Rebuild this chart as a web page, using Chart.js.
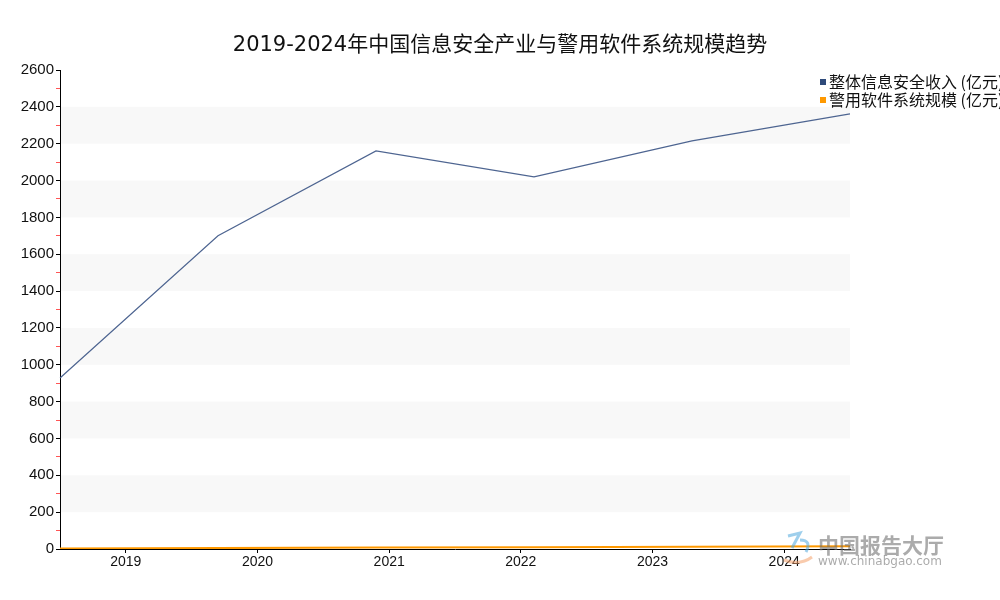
<!DOCTYPE html>
<html>
<head>
<meta charset="utf-8">
<script src="https://cdn.jsdelivr.net/npm/chart.js@4.4.1/dist/chart.umd.min.js"></script>
<style>
    html, body { margin: 0; padding: 0; background: #fff; }
    #wrap { width: 1000px; height: 600px; position: relative; }
</style>
</head>
<body>
<div id="wrap"><canvas id="trend"></canvas></div>
<script>
const years = ['2019', '2020', '2021', '2022', '2023', '2024'];
const securityRevenue = [928, 1700, 2161, 2020, 2215, 2362];
const policeSoftware = [3, 5, 8, 10, 12, 15];
const seriesNames = ['整体信息安全收入(亿元)', '警用软件系统规模(亿元)'];
const seriesColors = ['#4e6591', '#ff9900'];
const legendColors = ['#2e4a7a', '#ff9900'];
const chartTitle = '2019-2024年中国信息安全产业与警用软件系统规模趋势';

const cjkFont = "'DejaVu Sans', 'Noto Sans CJK SC', sans-serif";
const numFont = "'Liberation Sans', 'DejaVu Sans', sans-serif";

// grey bands every other 200 step, taken from the y scale
const bandPlugin = {
    id: 'bands',
    beforeDatasetsDraw(chart) {
        const { ctx, chartArea } = chart;
        const y = chart.scales.y;
        ctx.save();
        ctx.fillStyle = '#f8f8f8';
        y.ticks.forEach(t => {
            if (t.value % 400 === 200 && t.value + 200 <= y.max) {
                const top = y.getPixelForValue(t.value + 200);
                const bottom = y.getPixelForValue(t.value);
                ctx.fillRect(chartArea.left + 1, top, chartArea.right - chartArea.left - 1, bottom - top);
            }
        });
        ctx.restore();
    }
};

// title centred on the whole canvas, legend right of the plot running off the edge
const decorations = {
    id: 'decorations',
    afterDraw(chart) {
        const { ctx, chartArea, width } = chart;
        ctx.save();
        ctx.fillStyle = '#111';
        ctx.textAlign = 'center';
        ctx.textBaseline = 'middle';
        ctx.font = "21px " + cjkFont;
        ctx.fillText(chartTitle, width / 2, 46);

        ctx.textAlign = 'left';
        ctx.font = "16px 'Noto Sans CJK SC', sans-serif";
        chart.data.datasets.forEach((ds, i) => {
            const yy = 82 + i * 18;
            ctx.fillStyle = legendColors[i];
            ctx.fillRect(chartArea.right - 30, yy - 3, 6, 6);
            ctx.fillStyle = '#111';
            ctx.fillText(ds.label.replace('(', ' ('), chartArea.right - 21, yy);
        });

        // watermark
        ctx.globalAlpha = 0.55;
        ctx.strokeStyle = '#4fa8dc';
        ctx.lineWidth = 3;
        ctx.beginPath();
        ctx.moveTo(788, 536);
        ctx.lineTo(800, 533);
        ctx.lineTo(792, 548);
        ctx.moveTo(800, 540);
        ctx.quadraticCurveTo(812, 540, 806, 552);
        ctx.stroke();
        ctx.strokeStyle = '#f4a06a';
        ctx.beginPath();
        ctx.moveTo(784, 560);
        ctx.quadraticCurveTo(800, 566, 812, 557);
        ctx.stroke();
        ctx.fillStyle = '#666';
        ctx.font = "bold 21px 'Noto Sans CJK SC', sans-serif";
        ctx.fillText('中国报告大厅', 818, 545);
        ctx.font = "12px 'DejaVu Sans', sans-serif";
        ctx.fillText('www.chinabgao.com', 818, 562);
        ctx.restore();
    }
};

new Chart(document.getElementById('trend'), {
    type: 'line',
    data: {
        labels: years,
        datasets: [
            {
                label: seriesNames[0],
                data: securityRevenue,
                borderColor: seriesColors[0],
                backgroundColor: seriesColors[0],
                borderWidth: 1.2,
                pointRadius: 0,
                tension: 0
            },
            {
                label: seriesNames[1],
                data: policeSoftware,
                borderColor: seriesColors[1],
                backgroundColor: seriesColors[1],
                borderWidth: 2,
                pointRadius: 0,
                tension: 0
            }
        ]
    },
    options: {
        responsive: true,
        maintainAspectRatio: false,
        animation: false,
        layout: { padding: { left: 0, right: 150, top: 70, bottom: 0 } },
        plugins: {
            legend: { display: false },
            tooltip: { enabled: false },
            title: { display: false }
        },
        scales: {
            x: {
                type: 'category',
                display: false,
                offset: false
            },
            x2: {
                type: 'category',
                labels: years,
                position: 'bottom',
                offset: true,
                grid: {
                    offset: false,
                    drawOnChartArea: false,
                    tickLength: 4,
                    tickColor: '#000'
                },
                border: { color: '#000', width: 1 },
                ticks: {
                    color: '#111',
                    padding: 1,
                    font: { family: numFont, size: 14 }
                },
                afterFit(scale) { scale.height = 51; }
            },
            y: {
                min: 0,
                max: 2600,
                grid: {
                    drawOnChartArea: false,
                    tickLength: 4,
                    tickColor: ctx => (ctx.tick && ctx.tick.value % 200 === 0) ? '#000' : '#ff5555'
                },
                border: { color: '#000', width: 1 },
                ticks: {
                    stepSize: 100,
                    autoSkip: false,
                    color: '#111',
                    padding: 2,
                    font: { family: numFont, size: 15 },
                    callback: v => (v % 200 === 0 ? v : '')
                },
                afterFit(scale) { scale.width = 60; }
            }
        }
    },
    plugins: [bandPlugin, decorations]
});
</script>
</body>
</html>
